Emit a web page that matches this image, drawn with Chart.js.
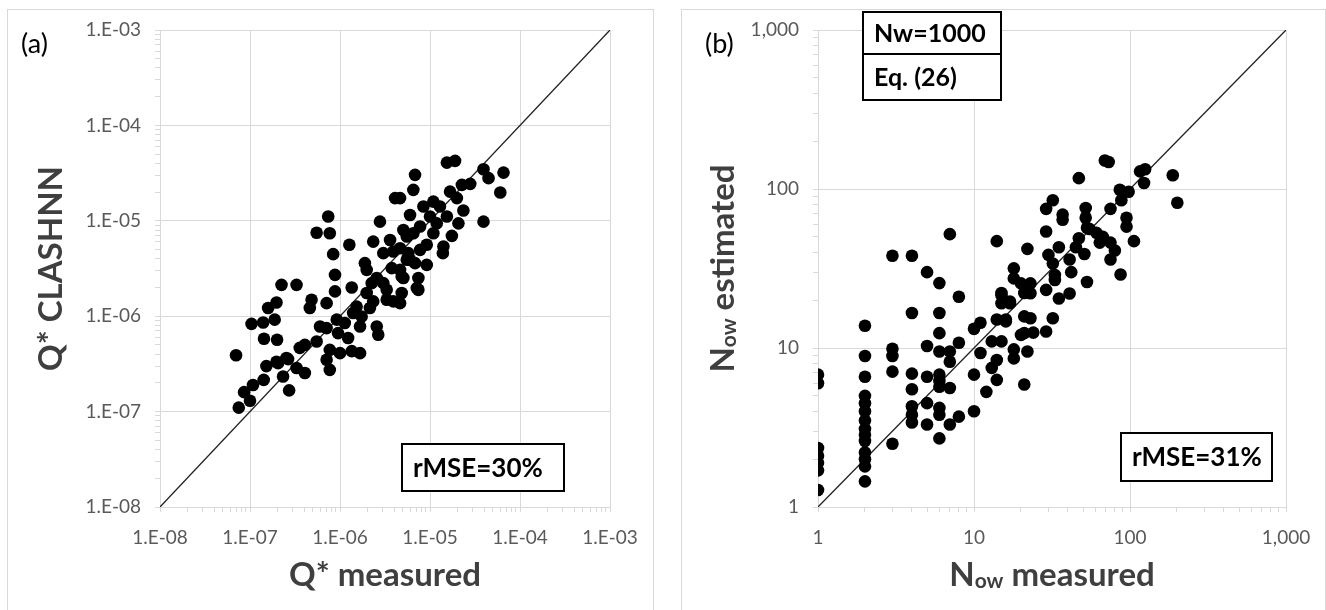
<!DOCTYPE html>
<html>
<head>
<meta charset="utf-8">
<script src="https://cdn.jsdelivr.net/npm/chart.js@4.4.1/dist/chart.umd.min.js"></script>
<style>
  html, body { margin: 0; padding: 0; background: #fff; overflow: hidden; }
  .frame { position: absolute; border: 1px solid #d9d9d9; }
  canvas { position: absolute; top: 0; }
</style>
</head>
<body>
<div class="frame" style="left:7px; top:9px; width:645px; height:700px"></div>
<div class="frame" style="left:681px; top:9px; width:643px; height:700px"></div>
<canvas id="qChart" style="left:0" width="663" height="610"></canvas>
<canvas id="nChart" style="left:663px" width="663" height="610"></canvas>
<script>
// axis decades and their labels
const qTicks = [1e-8, 1e-7, 1e-6, 1e-5, 1e-4, 1e-3]
const qTickLabels = ['1.E-08', '1.E-07', '1.E-06', '1.E-05', '1.E-04', '1.E-03']
const nTicks = [1, 10, 100, 1000]
const nTickLabels = ['1', '10', '100', '1,000']

// 1:1 reference lines
const qDiagonal = [1e-8, 1e-3]
const nDiagonal = [1, 1000]

// (a) Q* measured vs Q* CLASHNN
const qMeasured = [
  7.0e-8, 7.5e-8, 8.6e-8, 1.0e-7, 1.08e-7, 1.42e-7, 1.52e-7, 1.97e-7, 2.33e-7, 2.72e-7,
  2.65e-7, 4.07e-7, 3.29e-7, 2.54e-7, 2.05e-7, 1.04e-7, 1.40e-7, 1.43e-7, 2.0e-7, 1.59e-7,
  1.97e-7, 2.24e-7, 3.29e-7, 1.88e-7, 4.07e-7, 5.5e-7, 7.7e-7, 7.1e-7, 1.0e-6, 7.7e-7,
  1.67e-6, 4.83e-7, 4.62e-7, 7.1e-7, 7.1e-7, 9.2e-7, 1.13e-6, 9.5e-7, 1.53e-6, 1.67e-6,
  1.40e-6, 2.56e-6, 2.66e-6, 7.4e-7, 5.5e-7, 7.7e-7, 1.27e-6, 8.4e-7, 8.8e-7, 8.8e-7,
  1.35e-6, 1.89e-6, 1.98e-6, 2.34e-6, 2.78e-6, 2.25e-6, 3.03e-6, 3.30e-6, 3.91e-6, 2.34e-6,
  2.15e-6, 3.76e-6, 4.85e-6, 3.03e-6, 3.91e-6, 4.65e-6, 5.52e-6, 6.82e-6, 7.13e-6, 6.82e-6,
  6.53e-6, 4.09e-6, 6.0e-6, 5.06e-6, 6.53e-6, 1.54e-5, 1.90e-5, 3.93e-5, 4.47e-5, 6.56e-5,
  6.04e-5, 3.93e-5, 2.8e-5, 2.26e-5, 1.67e-5, 1.99e-5, 2.35e-5, 2.07e-5, 1.75e-5, 1.41e-5,
  1.39e-5, 9.2e-6, 9.2e-6, 7.43e-6, 7.43e-6, 5.06e-6, 1.09e-5, 8.45e-6, 1.29e-5, 1.54e-5,
  1.19e-5, 1.0e-5, 7.76e-6, 5.52e-6, 1.09e-5, 4.65e-6, 6.0e-6, 4.65e-6, 2.56e-6, 4.85e-6,
  3.6e-6, 7.76e-6, 3.57e-7, 6.0e-7, 1.23e-6, 1.35e-6, 1.98e-6, 1.74e-6, 3.30e-6, 4.65e-6,
  5.74e-6
]
const qClashnn = [
  3.9e-7, 1.1e-7, 1.6e-7, 1.3e-7, 1.9e-7, 2.15e-7, 3.0e-7, 3.33e-7, 2.33e-7, 1.67e-7,
  3.55e-7, 2.54e-7, 2.86e-7, 3.64e-7, 3.22e-7, 8.3e-7, 8.6e-7, 5.8e-7, 5.66e-7, 1.22e-6,
  1.39e-6, 2.13e-6, 2.13e-6, 9.2e-7, 5.0e-7, 5.43e-7, 4.44e-7, 3.49e-7, 4.1e-7, 2.74e-7,
  4.1e-7, 1.49e-6, 1.22e-6, 1.37e-6, 7.5e-7, 9.2e-7, 8.5e-7, 6.65e-7, 1.26e-6, 7.8e-7,
  1.08e-6, 7.8e-7, 6.38e-7, 1.11e-5, 7.5e-6, 7.4e-6, 5.6e-6, 4.47e-6, 2.71e-6, 1.82e-6,
  2.0e-6, 3.6e-6, 3.06e-6, 6.05e-6, 9.8e-6, 2.22e-6, 2.22e-6, 1.89e-6, 1.43e-6, 1.43e-6,
  1.22e-6, 3.19e-6, 2.61e-6, 4.58e-6, 4.76e-6, 5.16e-6, 3.9e-6, 3.6e-6, 1.97e-6, 3.03e-5,
  2.11e-5, 1.73e-5, 1.15e-5, 8.0e-6, 7.4e-6, 4.07e-5, 4.25e-5, 3.47e-5, 2.8e-5, 3.2e-5,
  1.98e-5, 9.8e-6, 2.44e-5, 2.38e-5, 2.02e-5, 1.73e-5, 1.28e-5, 9.4e-6, 6.95e-6, 5.37e-6,
  4.58e-6, 5.6e-6, 3.45e-6, 2.51e-6, 1.89e-6, 2.51e-6, 1.59e-5, 1.41e-5, 1.41e-5, 1.11e-5,
  9.4e-6, 1.11e-5, 8.7e-6, 6.84e-6, 7.4e-6, 1.73e-5, 3.9e-6, 1.37e-6, 2.51e-6, 1.75e-6,
  6.3e-6, 4.96e-6, 4.66e-7, 7.8e-7, 5.9e-7, 4.3e-7, 1.75e-6, 9.9e-7, 1.49e-6, 3.06e-6,
  4.58e-6
]

// (b) Now measured vs Now estimated
const nowMeasured = [
  1, 1, 1, 1, 1, 1, 1,
  2, 2, 2, 2, 2, 2, 2, 2, 2, 2, 2, 2, 2, 2,
  3, 3, 3, 3, 3,
  4, 4, 4, 4, 4, 4, 4,
  5, 5, 5, 5, 5,
  6, 6, 6, 6, 6, 6, 6, 6, 6, 6,
  7, 7, 7, 7, 7,
  8, 8, 8,
  10, 10, 10, 11, 11, 12, 13, 13, 14, 14, 14, 14,
  15, 15, 15, 15, 16, 16, 17, 17, 18, 18, 18, 18,
  20, 20, 21, 21, 21, 21, 22, 22, 23, 23, 23, 24,
  29, 29, 29, 29, 30, 32, 32, 32, 33, 33, 35, 35, 37, 37,
  41, 41, 42, 45, 47, 47, 51, 52, 52, 53, 53, 55, 61, 64, 67,
  69, 73, 75, 75, 75, 80, 86, 87, 88, 95, 95, 98,
  106, 116, 123, 125, 188, 201
]
const nowEstimated = [
  6.8, 6.0, 2.35, 2.1, 1.9, 1.7, 1.28,
  13.8, 8.9, 6.6, 5.0, 4.5, 4.0, 3.5, 3.1, 2.85, 2.6, 2.2, 2.0, 1.8, 1.45,
  38, 9.9, 8.9, 7.1, 2.5,
  38, 16.6, 6.9, 5.5, 4.3, 3.8, 3.4,
  30, 10.3, 6.6, 4.5, 3.3,
  25.6, 16.6, 12.4, 9.5, 6.8, 6.2, 5.7, 4.2, 3.8, 2.7,
  52, 9.5, 8.2, 5.6, 3.3,
  21, 10.8, 3.7,
  13.2, 6.8, 4.0, 14.4, 9.3, 5.3, 11.0, 7.5, 47, 15.1, 8.4, 6.3,
  22.2, 21.5, 19.1, 11.0, 15.1, 14.7, 19.6, 19.1, 31.7, 27.4, 9.8, 8.6,
  25.5, 12.1, 22.2, 15.8, 12.4, 5.9, 42, 9.5, 25.5, 22.1, 15.4, 12.5,
  75, 54, 23.2, 12.7, 38.5, 85, 34, 15.4, 28.8, 26.8, 43, 20.5, 69, 64,
  36, 22, 30, 43, 117, 49, 39, 76, 66, 57, 26, 56, 53, 46, 50,
  151, 148, 75, 46, 36, 41, 99, 29, 85, 66, 58, 96,
  47, 129, 109, 133, 122, 82
]

Chart.defaults.font.family = 'Lato'

const toPoints = (xs, ys) => xs.map((x, i) => ({ x: x, y: ys[i] }))

// decade ticks plus the 2..9 marks between them
const logTicks = (majors) => {
  const out = []
  majors.forEach((v, i) => {
    out.push({ value: v, major: true })
    if (i < majors.length - 1) {
      for (let m = 2; m <= 9; m++) out.push({ value: m * v, major: false })
    }
  })
  return out
}

const logAxis = (majors, labels, size) => ({
  type: 'logarithmic',
  min: majors[0],
  max: majors[majors.length - 1],
  afterBuildTicks: (s) => { s.ticks = logTicks(majors) },
  afterFit: (s) => {
    if (s.isHorizontal()) s.height = size
    else s.width = size
  },
  border: { color: '#d9d9d9', width: 1 },
  grid: {
    color: (c) => (c.tick && c.tick.major) ? '#d9d9d9' : 'rgba(0,0,0,0)',
    tickColor: '#d9d9d9',
    tickLength: 5,
    lineWidth: 1
  },
  ticks: {
    autoSkip: false,
    maxRotation: 0,
    padding: 14,
    color: '#595959',
    font: { size: 19 },
    callback: (v, i, t) => t[i].major ? labels[majors.indexOf(t[i].value)] : ''
  }
})

// draws a title made of runs [text, size, dy] centred on cx
const drawRuns = (ctx, runs, cx, base) => {
  let total = 0
  const widths = runs.map(([t, size]) => {
    ctx.font = 'bold ' + size + 'px Lato'
    const w = ctx.measureText(t).width
    total += w
    return w
  })
  let x = cx - total / 2
  runs.forEach(([t, size, dy], i) => {
    ctx.font = 'bold ' + size + 'px Lato'
    ctx.fillText(t, x, base + dy)
    x += widths[i]
  })
}

const decorations = (cfg) => ({
  id: 'decorations',
  afterDraw(chart) {
    const ctx = chart.ctx
    const a = chart.chartArea
    ctx.save()
    ctx.textAlign = 'left'
    ctx.textBaseline = 'alphabetic'

    ctx.fillStyle = '#000'
    ctx.font = '27px Lato'
    ctx.fillText(cfg.letter, cfg.letterX, 53)

    ctx.fillStyle = '#3f3f3f'
    drawRuns(ctx, cfg.xTitle, (a.left + a.right) / 2, 586)
    ctx.save()
    ctx.translate(cfg.yTitleX, (a.top + a.bottom) / 2)
    ctx.rotate(-Math.PI / 2)
    drawRuns(ctx, cfg.yTitle, 0, 0)
    ctx.restore()

    cfg.boxes.forEach((b) => {
      ctx.fillStyle = '#fff'
      ctx.fillRect(b.x, b.y, b.w, b.h)
      ctx.strokeStyle = '#000'
      ctx.lineWidth = 2
      ctx.strokeRect(b.x, b.y, b.w, b.h)
      ctx.fillStyle = '#000'
      ctx.font = 'bold ' + b.size + 'px Lato'
      ctx.fillText(b.text, b.x + 11, b.y + b.h / 2 + b.size * 0.36)
    })
    ctx.restore()
  }
})

const scatterChart = (canvasId, xs, ys, diag, ticks, labels, yWidth, padRight, deco) => new Chart(document.getElementById(canvasId), {
  type: 'scatter',
  data: {
    datasets: [{
      data: toPoints(xs, ys),
      pointRadius: 6.3,
      pointBackgroundColor: '#000',
      pointBorderWidth: 0,
      order: 1
    }, {
      data: toPoints(diag, diag),
      showLine: true,
      borderColor: '#222',
      borderWidth: 1.3,
      pointRadius: 0,
      order: 2
    }]
  },
  options: {
    responsive: false,
    animation: false,
    devicePixelRatio: 1,
    layout: { padding: { top: 30, left: 0, right: padRight, bottom: 0 } },
    plugins: {
      legend: { display: false },
      tooltip: { enabled: false }
    },
    scales: {
      x: logAxis(ticks, labels, 103),
      y: logAxis(ticks, labels, yWidth)
    }
  },
  plugins: [decorations(deco)]
})

scatterChart('qChart', qMeasured, qClashnn, qDiagonal, qTicks, qTickLabels, 160, 53, {
  letter: '(a)', letterX: 21,
  xTitle: [['Q* measured', 33, 0]],
  yTitle: [['Q* CLASHNN', 33, 0]],
  yTitleX: 62,
  boxes: [{ x: 402, y: 444, w: 162, h: 47, text: 'rMSE=30%', size: 26 }]
})

scatterChart('nChart', nowMeasured, nowEstimated, nDiagonal, nTicks, nTickLabels, 155, 40, {
  letter: '(b)', letterX: 42,
  xTitle: [['N', 33, 0], ['ow', 21, 2], [' measured', 33, 0]],
  yTitle: [['N', 33, 0], ['ow', 21, 2], [' estimated', 33, 0]],
  yTitleX: 71,
  boxes: [
    { x: 458, y: 433, w: 151, h: 48, text: 'rMSE=31%', size: 26 },
    { x: 200, y: 12, w: 138, h: 42, text: 'Nw=1000', size: 25 },
    { x: 200, y: 54, w: 138, h: 46, text: 'Eq. (26)', size: 25 }
  ]
})
</script>
</body>
</html>
